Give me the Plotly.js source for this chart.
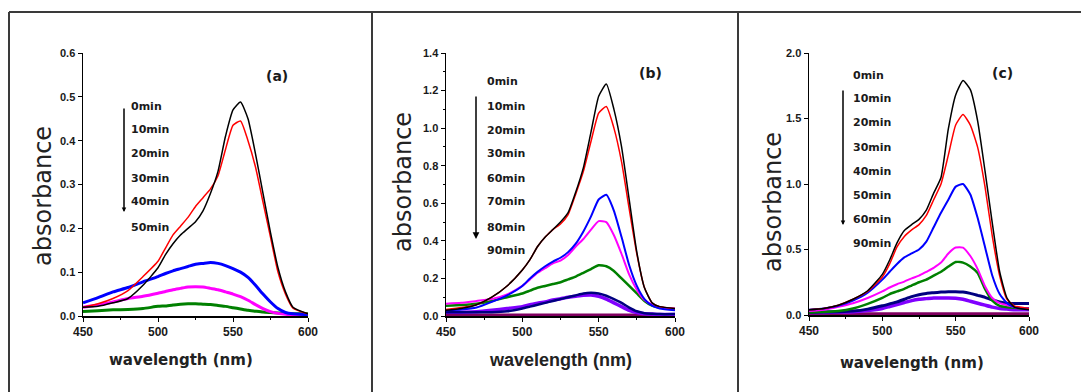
<!DOCTYPE html>
<html>
<head>
<meta charset="utf-8">
<script src="https://cdn.plot.ly/plotly-3.0.1.min.js"></script>
<style>html,body{margin:0;padding:0;background:#fff;}#chart{width:1081px;height:392px;}</style>
</head>
<body>
<div id="chart"></div>
<script>
// wavelength grid (nm)
const wavelength = [450,460,470,480,490,500,505,510,515,520,525,530,535,540,545,550,555,560,565,570,575,580,585,590,600];

// Panel (a)
const a_labels = ["0min","10min","20min","30min","40min","50min"];
const a_0min  = [0.020,0.022,0.030,0.040,0.070,0.110,0.140,0.165,0.185,0.200,0.215,0.240,0.280,0.330,0.410,0.470,0.488,0.450,0.370,0.280,0.190,0.110,0.055,0.020,0.005];
const a_10min = [0.020,0.028,0.040,0.058,0.090,0.125,0.155,0.185,0.205,0.225,0.250,0.270,0.290,0.320,0.380,0.435,0.445,0.400,0.340,0.260,0.180,0.100,0.050,0.018,0.005];
const a_20min = [0.030,0.042,0.055,0.065,0.078,0.090,0.097,0.103,0.108,0.113,0.118,0.120,0.122,0.120,0.115,0.108,0.100,0.088,0.070,0.050,0.032,0.017,0.008,0.005,0.003];
const a_30min = [0.020,0.025,0.032,0.040,0.045,0.052,0.056,0.060,0.063,0.066,0.067,0.066,0.063,0.060,0.055,0.050,0.044,0.036,0.026,0.017,0.010,0.006,0.004,0.003,0.003];
const a_40min = [0.010,0.012,0.014,0.015,0.017,0.022,0.023,0.025,0.027,0.028,0.028,0.027,0.026,0.024,0.022,0.019,0.016,0.013,0.011,0.009,0.008,0.007,0.006,0.005,0.005];

// Panel (b)
const b_labels = ["0min","10min","20min","30min","60min","70min","80min","90min"];
const b_0min  = [0.030,0.040,0.060,0.100,0.160,0.245,0.300,0.370,0.420,0.460,0.500,0.550,0.660,0.790,0.980,1.170,1.235,1.100,0.900,0.620,0.340,0.150,0.070,0.050,0.040];
const b_10min = [0.035,0.045,0.060,0.100,0.160,0.245,0.300,0.370,0.420,0.460,0.490,0.540,0.650,0.770,0.930,1.080,1.115,1.000,0.820,0.570,0.330,0.150,0.070,0.050,0.040];
const b_20min = [0.030,0.035,0.045,0.075,0.110,0.160,0.200,0.235,0.265,0.290,0.310,0.340,0.385,0.450,0.530,0.620,0.645,0.560,0.420,0.270,0.160,0.090,0.055,0.040,0.030];
const b_30min = [0.065,0.070,0.080,0.090,0.115,0.160,0.195,0.230,0.255,0.280,0.295,0.325,0.370,0.410,0.460,0.505,0.500,0.430,0.330,0.220,0.140,0.085,0.060,0.045,0.040];
const b_60min = [0.055,0.058,0.065,0.080,0.100,0.120,0.135,0.150,0.160,0.170,0.180,0.195,0.210,0.230,0.250,0.270,0.265,0.240,0.200,0.160,0.120,0.080,0.055,0.045,0.035];
const b_70min = [0.020,0.020,0.020,0.020,0.025,0.040,0.050,0.060,0.070,0.080,0.090,0.100,0.110,0.120,0.124,0.120,0.108,0.090,0.070,0.045,0.025,0.015,0.012,0.010,0.010];
const b_80min = [0.020,0.020,0.022,0.030,0.040,0.050,0.060,0.068,0.075,0.085,0.092,0.100,0.105,0.110,0.112,0.105,0.090,0.070,0.050,0.030,0.018,0.012,0.010,0.008,0.008];
const b_90min = [0.005,0.005,0.005,0.005,0.005,0.005,0.005,0.005,0.005,0.005,0.005,0.005,0.005,0.005,0.005,0.005,0.005,0.005,0.005,0.005,0.005,0.005,0.005,0.005,0.005];

// Panel (c)
const c_labels = ["0min","10min","20min","30min","40min","50min","60min","90min"];
const c_0min  = [0.040,0.050,0.075,0.120,0.185,0.310,0.420,0.550,0.645,0.690,0.730,0.800,0.930,1.050,1.420,1.680,1.790,1.720,1.480,1.100,0.700,0.330,0.130,0.060,0.040];
const c_10min = [0.040,0.050,0.075,0.120,0.180,0.290,0.390,0.520,0.600,0.650,0.690,0.760,0.880,1.000,1.220,1.450,1.530,1.450,1.280,0.980,0.600,0.300,0.120,0.070,0.050];
const c_20min = [0.040,0.050,0.070,0.110,0.170,0.270,0.330,0.390,0.440,0.470,0.500,0.560,0.670,0.780,0.880,0.980,1.000,0.920,0.740,0.520,0.300,0.160,0.090,0.060,0.050];
const c_30min = [0.030,0.040,0.063,0.090,0.130,0.180,0.210,0.235,0.255,0.280,0.300,0.330,0.360,0.400,0.470,0.515,0.515,0.450,0.350,0.220,0.130,0.090,0.075,0.060,0.050];
const c_40min = [0.020,0.022,0.030,0.050,0.085,0.130,0.160,0.180,0.200,0.225,0.250,0.270,0.300,0.330,0.370,0.405,0.400,0.370,0.320,0.200,0.110,0.070,0.060,0.055,0.050];
const c_50min = [0.020,0.022,0.025,0.030,0.045,0.070,0.085,0.100,0.120,0.140,0.155,0.165,0.170,0.175,0.178,0.178,0.175,0.165,0.150,0.135,0.115,0.100,0.090,0.088,0.088];
const c_60min = [0.020,0.020,0.022,0.025,0.035,0.050,0.065,0.080,0.095,0.110,0.120,0.125,0.130,0.130,0.130,0.128,0.120,0.105,0.090,0.075,0.060,0.050,0.045,0.040,0.040];
const c_90min = [0.010,0.010,0.010,0.010,0.010,0.010,0.010,0.010,0.010,0.010,0.010,0.010,0.010,0.010,0.010,0.010,0.010,0.010,0.010,0.010,0.010,0.010,0.010,0.010,0.010];

const panelLetters = ["(a)","(b)","(c)"];
const xTicks = [450,500,550,600];
const xTitle = "wavelength (nm)";
const yTitle = "absorbance";

const W = 1081, H = 392;
const px = v => v / W;
const py = v => 1 - v / H;

function tr(y, color, width, xa, ya, name) {
  return {x: wavelength, y: y, type: 'scatter', mode: 'lines', name: name,
          line: {color: color, width: width, shape: 'spline', smoothing: 0.5},
          xaxis: xa, yaxis: ya, hoverinfo: 'skip'};
}

const data = [
  tr(a_40min, '#008000', 3, 'x', 'y', a_labels[4]),
  tr(a_30min, '#ff00ff', 3, 'x', 'y', a_labels[3]),
  tr(a_20min, '#0000ff', 3, 'x', 'y', a_labels[2]),
  tr(a_10min, '#ff0000', 1.5, 'x', 'y', a_labels[1]),
  tr(a_0min,  '#000000', 1.5, 'x', 'y', a_labels[0]),

  tr(b_90min, '#800060', 3, 'x2', 'y2', b_labels[7]),
  tr(b_80min, '#8000ff', 3.5, 'x2', 'y2', b_labels[6]),
  tr(b_70min, '#000080', 2.5, 'x2', 'y2', b_labels[5]),
  tr(b_60min, '#008000', 2.5, 'x2', 'y2', b_labels[4]),
  tr(b_30min, '#ff00ff', 2, 'x2', 'y2', b_labels[3]),
  tr(b_20min, '#0000ff', 2, 'x2', 'y2', b_labels[2]),
  tr(b_10min, '#ff0000', 1.5, 'x2', 'y2', b_labels[1]),
  tr(b_0min,  '#000000', 1.5, 'x2', 'y2', b_labels[0]),

  tr(c_90min, '#800060', 3, 'x3', 'y3', c_labels[7]),
  tr(c_60min, '#8000ff', 3.5, 'x3', 'y3', c_labels[6]),
  tr(c_50min, '#000080', 3, 'x3', 'y3', c_labels[5]),
  tr(c_40min, '#008000', 2.5, 'x3', 'y3', c_labels[4]),
  tr(c_30min, '#ff00ff', 2, 'x3', 'y3', c_labels[3]),
  tr(c_20min, '#0000ff', 2, 'x3', 'y3', c_labels[2]),
  tr(c_10min, '#ff0000', 1.5, 'x3', 'y3', c_labels[1]),
  tr(c_0min,  '#000000', 1.5, 'x3', 'y3', c_labels[0])
];

const tickFontX = {family: 'Liberation Sans, Arial, sans-serif', size: 12, weight: 'bold', color: '#1a1a1a'};
const tickFontY = {family: 'Liberation Sans, Arial, sans-serif', size: 11, weight: 'bold', color: '#1a1a1a'};

function xax(dom, anchor) {
  return {domain: dom, anchor: anchor, range: [450, 600], tickvals: xTicks,
          showline: true, linecolor: '#000', linewidth: 1.5, ticks: 'outside', ticklen: 4, tickwidth: 1,
          tickcolor: '#000', showgrid: false, zeroline: false, tickfont: tickFontX,
          minor: {dtick: 25, tick0: 450, ticks: 'outside', ticklen: 2, tickcolor: '#000', showgrid: false}};
}
function yax(dom, anchor, range, dtick, minorDtick) {
  const o = {domain: dom, anchor: anchor, range: range, dtick: dtick, tick0: 0, tickformat: '.1f',
          showline: true, linecolor: '#000', linewidth: 1.5, ticks: 'outside', ticklen: 4, tickwidth: 1,
          tickcolor: '#000', showgrid: false, zeroline: false, tickfont: tickFontY};
  if (minorDtick) o.minor = {dtick: minorDtick, ticks: 'outside', ticklen: 2, tickcolor: '#000', showgrid: false};
  return o;
}

const yDomAB = [(H - 316) / H, (H - 53) / H];
const yDomC  = [(H - 315) / H, (H - 53) / H];

const layout = {
  width: W, height: H, margin: {l: 0, r: 0, t: 0, b: 0},
  paper_bgcolor: '#fff', plot_bgcolor: '#fff', showlegend: false,
  xaxis:  xax([px(83), px(308)], 'y'),
  yaxis:  yax(yDomAB, 'x', [0, 0.6], 0.1),
  xaxis2: xax([px(446), px(675)], 'y2'),
  yaxis2: yax(yDomAB, 'x2', [0, 1.4], 0.2, 0.1),
  xaxis3: xax([px(809), px(1029)], 'y3'),
  yaxis3: yax(yDomC, 'x3', [0, 2.0], 0.5),
  shapes: [
    {type: 'line', xref: 'paper', yref: 'paper', x0: px(9), x1: 1, y0: py(12), y1: py(12), line: {color: '#3a3a3a', width: 2}},
    {type: 'line', xref: 'paper', yref: 'paper', x0: px(9), x1: px(9), y0: py(12), y1: 0, line: {color: '#3a3a3a', width: 2}},
    {type: 'line', xref: 'paper', yref: 'paper', x0: px(372), x1: px(372), y0: py(12), y1: 0, line: {color: '#3a3a3a', width: 2}},
    {type: 'line', xref: 'paper', yref: 'paper', x0: px(738), x1: px(738), y0: py(12), y1: 0, line: {color: '#3a3a3a', width: 2}}
  ],
  annotations: []
};

// axis titles
const yTitleFont = {family: 'DejaVu Sans, sans-serif', size: 24, color: '#222'};
[[43, 196], [403, 182], [773, 202]].forEach(p => layout.annotations.push({text: yTitle, textangle: -90,
  xref: 'paper', yref: 'paper', x: px(p[0]), y: py(p[1]), xanchor: 'center', yanchor: 'middle', showarrow: false, font: yTitleFont}));
const xTitleAC = {family: 'DejaVu Sans, sans-serif', size: 15, weight: 'bold', color: '#222'};
const xTitleB  = {family: 'Liberation Sans, Arial, sans-serif', size: 18, weight: 'bold', color: '#222'};
[[181, 360, xTitleAC], [560, 360, xTitleB], [912, 363, xTitleAC]].forEach(p => layout.annotations.push({text: xTitle,
  xref: 'paper', yref: 'paper', x: px(p[0]), y: py(p[1]), xanchor: 'center', yanchor: 'middle', showarrow: false, font: p[2]}));

const legFont = {family: 'DejaVu Sans, sans-serif', size: 11, weight: 'bold', color: '#1a1a1a'};
function addLabels(labels, xLeft, ys) {
  labels.forEach((t, i) => layout.annotations.push({text: t, xref: 'paper', yref: 'paper', x: px(xLeft), y: py(ys[i]),
    xanchor: 'left', yanchor: 'middle', showarrow: false, font: legFont}));
}
addLabels(a_labels, 129, [106,129,154,178,202,227]);
addLabels(b_labels, 485, [82,106,130,154,178,202,227,251]);
addLabels(c_labels, 851, [75,99,123,147,172,195,219,243]);

function addArrow(x, yTop, yBot, size) {
  layout.annotations.push({text: '', xref: 'paper', yref: 'paper', x: px(x), y: py(yBot), ax: 0, ay: -(yBot - yTop),
    axref: 'pixel', ayref: 'pixel', showarrow: true, arrowhead: 2, arrowsize: size, arrowwidth: 1.5, arrowcolor: '#000'});
}
addArrow(124, 107, 212, 0.6);
addArrow(476, 95, 239, 0.9);
addArrow(843, 89, 225, 0.6);

const letterFont = {family: 'DejaVu Sans, sans-serif', size: 14, weight: 'bold', color: '#1a1a1a'};
[[277, 76], [650, 73], [1002, 73]].forEach((p, i) => layout.annotations.push({text: panelLetters[i], xref: 'paper', yref: 'paper',
  x: px(p[0]), y: py(p[1]), xanchor: 'center', yanchor: 'middle', showarrow: false, font: letterFont}));

Plotly.newPlot('chart', data, layout, {staticPlot: true, displayModeBar: false});
</script>
</body>
</html>
